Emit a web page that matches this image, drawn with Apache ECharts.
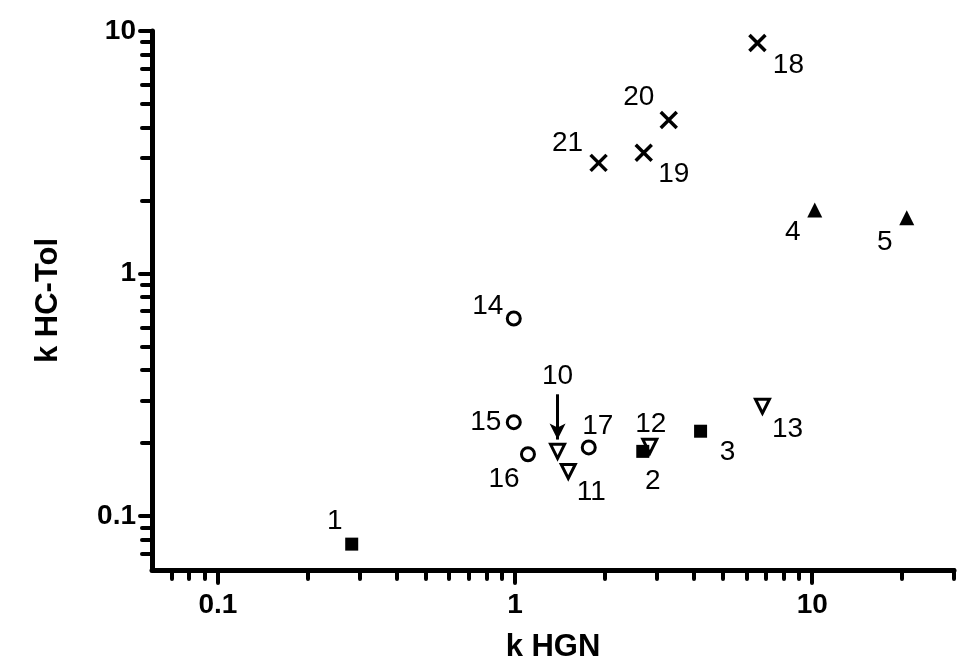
<!DOCTYPE html>
<html>
<head>
<meta charset="utf-8">
<script src="https://cdn.jsdelivr.net/npm/echarts@6/dist/echarts.min.js"></script>
<style>
  html, body { margin: 0; padding: 0; background: #fff; }
  #echarts { width: 964px; height: 671px; }
</style>
</head>
<body>
<div id="echarts"></div>
<script>
// values
var squareNames = ['1', '2', '3'];
var squareX = [0.282, 2.69, 4.21];
var squareY = [0.0767, 0.185, 0.224];

var triUpNames = ['4', '5'];
var triUpX = [10.2, 20.8];
var triUpY = [1.83, 1.70];

var triDownNames = ['10', '11', '12', '13'];
var triDownX = [1.39, 1.51, 2.84, 6.80];
var triDownY = [0.185, 0.153, 0.194, 0.284];

var circleNames = ['14', '15', '16', '17'];
var circleX = [0.99, 0.99, 1.105, 1.77];
var circleY = [0.653, 0.244, 0.180, 0.192];

var crossNames = ['18', '19', '20', '21'];
var crossX = [6.54, 2.71, 3.29, 1.91];
var crossY = [8.92, 3.15, 4.30, 2.86];

// arrow pointing at point 10
var arrowX = [1.39, 1.39];
var arrowY = [0.318, 0.207];

var majorTicks = [0.1, 1, 10];
var xMinorTicks = [0.07, 0.08, 0.09, 0.2, 0.3, 0.4, 0.5, 0.6, 0.7, 0.8, 0.9,
    2, 3, 4, 5, 6, 7, 8, 9, 20, 30];
var yMinorTicks = [0.07, 0.08, 0.09, 0.2, 0.3, 0.4, 0.5, 0.6, 0.7, 0.8, 0.9,
    2, 3, 4, 5, 6, 7, 8, 9];

// label offsets from the marker centre (px)
var labelOffsets = {
    '1': [-17, -23], '2': [10, 30], '3': [27, 21], '4': [-22, 22], '5': [-22, 25],
    '10': [0, -75], '11': [23, 21], '12': [1, -22], '13': [25, 23],
    '14': [-26, -12], '15': [-28, 0], '16': [-24, 25], '17': [9, -21],
    '18': [31, 22], '19': [30, 22], '20': [-30, -23], '21': [-31, -20]
};

var FONT = 'Liberation Sans';

function buildData(names, xs, ys) {
    return names.map(function (n, i) {
        return {
            name: n,
            value: [xs[i], ys[i]],
            label: { offset: labelOffsets[n] }
        };
    });
}

var pointLabel = {
    show: true,
    position: 'inside',
    formatter: '{b}',
    color: '#000',
    fontFamily: FONT,
    fontSize: 28,
    align: 'center',
    verticalAlign: 'middle'
};

function logAxis(min, max, pos, extra) {
    var a = {
        type: 'log',
        logBase: 10,
        min: min,
        max: max,
        position: pos,
        splitLine: { show: false },
        axisLine: { show: true, lineStyle: { color: '#000', width: 5, cap: 'round' } }
    };
    for (var k in extra) a[k] = extra[k];
    return a;
}

var tickLabel = {
    customValues: majorTicks,
    fontFamily: FONT,
    fontWeight: 'bold',
    fontSize: 28,
    color: '#000',
    formatter: function (v) { return String(v); }
};

var nameStyle = { fontFamily: FONT, fontWeight: 'bold', fontSize: 31, color: '#000' };

var myChart = echarts.init(document.getElementById('echarts'));

var option = {
    backgroundColor: '#fff',
    animation: false,
    grid: { left: 152, right: 10, top: 31, bottom: 101 },
    xAxis: [
        logAxis(0.06, 30, 'bottom', {
            name: 'k HGN',
            nameLocation: 'middle',
            nameGap: 62,
            nameTextStyle: nameStyle,
            axisTick: { customValues: majorTicks, length: 13, lineStyle: { color: '#000', width: 4, cap: 'round' } },
            axisLabel: Object.assign({ margin: 21 }, tickLabel)
        }),
        logAxis(0.06, 30, 'bottom', {
            axisLine: { show: false },
            axisLabel: { show: false },
            axisTick: { customValues: xMinorTicks, length: 9, lineStyle: { color: '#000', width: 4, cap: 'round' } }
        })
    ],
    yAxis: [
        logAxis(0.06, 10, 'left', {
            name: 'k HC-Tol',
            nameLocation: 'middle',
            nameGap: 88,
            nameTextStyle: nameStyle,
            axisTick: { customValues: majorTicks, length: 12, lineStyle: { color: '#000', width: 4, cap: 'round' } },
            axisLabel: Object.assign({ margin: 16 }, tickLabel)
        }),
        logAxis(0.06, 10, 'left', {
            axisLine: { show: false },
            axisLabel: { show: false },
            axisTick: { customValues: yMinorTicks, length: 10, lineStyle: { color: '#000', width: 4, cap: 'round' } }
        })
    ],
    series: [
        {
            type: 'scatter',
            symbol: 'rect',
            symbolSize: 13,
            itemStyle: { color: '#000', opacity: 1 },
            label: pointLabel,
            data: buildData(squareNames, squareX, squareY)
        },
        {
            type: 'scatter',
            symbol: 'triangle',
            symbolSize: 15,
            itemStyle: { color: '#000', opacity: 1 },
            label: pointLabel,
            data: buildData(triUpNames, triUpX, triUpY)
        },
        {
            type: 'scatter',
            symbol: 'triangle',
            symbolRotate: 180,
            symbolSize: 14,
            itemStyle: { color: 'rgba(0,0,0,0)', borderColor: '#000', borderWidth: 3, opacity: 1 },
            label: pointLabel,
            data: buildData(triDownNames, triDownX, triDownY),
            markLine: {
                silent: true,
                symbol: ['none', 'arrow'],
                symbolSize: [12, 16],
                label: { show: false },
                lineStyle: { color: '#000', width: 3, type: 'solid', opacity: 1 },
                data: [[
                    { coord: [arrowX[0], arrowY[0]] },
                    { coord: [arrowX[1], arrowY[1]] }
                ]]
            }
        },
        {
            type: 'scatter',
            symbol: 'circle',
            symbolSize: 13,
            itemStyle: { color: 'rgba(0,0,0,0)', borderColor: '#000', borderWidth: 3, opacity: 1 },
            label: pointLabel,
            data: buildData(circleNames, circleX, circleY)
        },
        {
            type: 'scatter',
            symbol: 'path://M0,0L10,10M10,0L0,10',
            symbolSize: 16,
            itemStyle: { color: 'rgba(0,0,0,0)', borderColor: '#000', borderWidth: 3.5, opacity: 1 },
            label: pointLabel,
            data: buildData(crossNames, crossX, crossY)
        }
    ]
};

myChart.setOption(option);
</script>
</body>
</html>
